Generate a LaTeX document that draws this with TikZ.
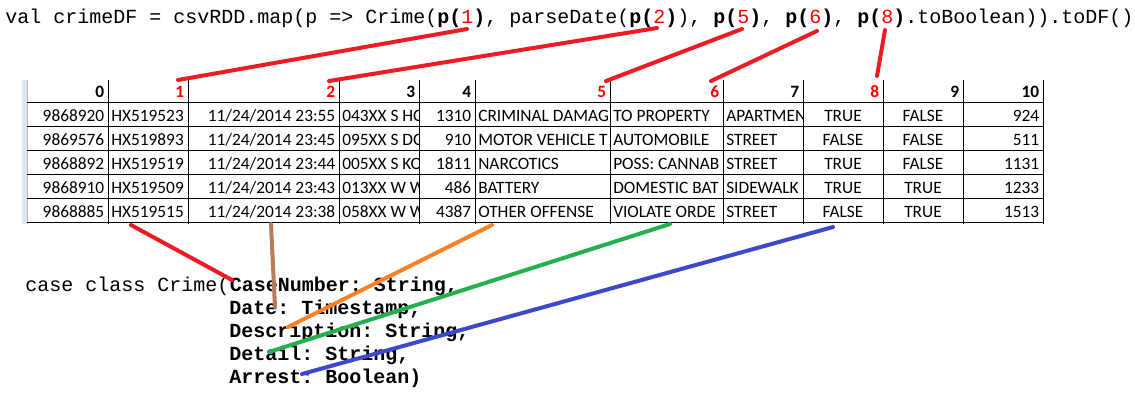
\documentclass[tikz,border=0pt]{standalone}
\usepackage{fontspec}
\usepackage{xcolor}
\usepackage{tikz}
\newfontfamily\codefont{Liberation Mono}
\newfontfamily\cellfont{Carlito}
\definecolor{hred}{HTML}{FF0000}
\definecolor{penred}{HTML}{ED1C24}
\definecolor{penbrown}{HTML}{B97A57}
\definecolor{penorange}{HTML}{FF7F27}
\definecolor{pengreen}{HTML}{22B14C}
\definecolor{penblue}{HTML}{3F48CC}
\definecolor{rowhead}{HTML}{DDE6F2}
\newcommand\pidx[1]{\textbf{p(}\textcolor{hred}{#1}\textbf{)}}

\begin{document}
\begin{tikzpicture}[x=0.75pt, y=-0.75pt,
    code/.style={font=\codefont\frenchspacing\fontsize{15}{18}\selectfont, inner sep=0pt, anchor=base west},
    field/.style={code, font=\codefont\frenchspacing\bfseries\fontsize{15}{18}\selectfont},
    hcell/.style={font=\cellfont\bfseries\fontsize{13}{15}\selectfont, inner sep=0pt, anchor=base east},
    lcell/.style={font=\cellfont\fontsize{13}{15}\selectfont, inner sep=0pt, anchor=base west},
    rcell/.style={lcell, anchor=base east},
    ccell/.style={lcell, anchor=base},
    gridline/.style={draw=black, line width=0.75pt},
    pen/.style={line width=3pt, line cap=round}
]
    \useasboundingbox (0,0) rectangle (1135,404);

    % code above and below
    \node[code] (call) at (5,23) {val crimeDF = csvRDD.map(p => Crime(\pidx{1}, parseDate(\pidx{2}), \pidx{5}, \pidx{6}, \pidx{8}.toBoolean)).toDF()};
    \node[code] (cls) at (25,291.7) {case class Crime(};
    \node[field] (f1) at (cls.base east) {CaseNumber: String,};
    \node[field] (f2) at (229,314.6) {Date: Timestamp,};
    \node[field] (f3) at (229,337.5) {Description: String,};
    \node[field] (f4) at (229,360.4) {Detail: String,};
    \node[field] (f5) at (229,383.3) {Arrest: Boolean)};

    % sheet
    \fill[rowhead] (22,80) rectangle (27,224);
    \draw[color=rowhead!60!gray, line width=0.75pt] (27,80) -- (27,224);
    \foreach \t/\xr/\c in {0/104.5/black, 1/184.5/hred, 2/335.5/hred, 3/415.5/black,
        4/471.5/black, 5/606.5/hred, 6/719.5/hred, 7/799.5/black, 8/879.5/hred,
        9/959.5/black, 10/1039.5/black}
        \node[hcell, text=\c] (h\t) at (\xr,97) {\t};

    \foreach \t [count=\r] in {9868920,9869576,9868892,9868910,9868885}
        \node[rcell] (c0r\r) at (104.5,97+24*\r) {\t};
    \foreach \t [count=\r] in {HX519523,HX519893,HX519519,HX519509,HX519515}
        \node[lcell] (c1r\r) at (111,97+24*\r) {\t};
    \foreach \t [count=\r] in {11/24/2014 23:55,11/24/2014 23:45,11/24/2014 23:44,11/24/2014 23:43,11/24/2014 23:38}
        \node[rcell] (c2r\r) at (335.5,97+24*\r) {\t};
    \begin{scope}
        \clip (339.5,102) rectangle (418.5,222);
        \foreach \t [count=\r] in {043XX S HO,095XX S DO,005XX S KO,013XX W W,058XX W W}
            \node[lcell] (c3r\r) at (342,97+24*\r) {\t};
    \end{scope}
    \foreach \t [count=\r] in {1310,910,1811,486,4387}
        \node[rcell] (c4r\r) at (471.5,97+24*\r) {\t};
    \begin{scope}
        \clip (475.5,102) rectangle (609.5,222);
        \foreach \t [count=\r] in {CRIMINAL DAMAG,MOTOR VEHICLE T,NARCOTICS,BATTERY,OTHER OFFENSE}
            \node[lcell] (c5r\r) at (478,97+24*\r) {\t};
    \end{scope}
    \begin{scope}
        \clip (610.5,102) rectangle (722.5,222);
        \foreach \t [count=\r] in {TO PROPERTY,AUTOMOBILE,POSS: CANNAB,DOMESTIC BAT,VIOLATE ORDE}
            \node[lcell] (c6r\r) at (613,97+24*\r) {\t};
    \end{scope}
    \begin{scope}
        \clip (723.5,102) rectangle (802.5,222);
        \foreach \t [count=\r] in {APARTMEN,STREET,STREET,SIDEWALK,STREET}
            \node[lcell] (c7r\r) at (726,97+24*\r) {\t};
    \end{scope}
    \foreach \t [count=\r] in {TRUE,FALSE,TRUE,TRUE,FALSE}
        \node[ccell] (c8r\r) at (843,97+24*\r) {\t};
    \foreach \t [count=\r] in {FALSE,FALSE,FALSE,TRUE,TRUE}
        \node[ccell] (c9r\r) at (923,97+24*\r) {\t};
    \foreach \t [count=\r] in {924,511,1131,1233,1513}
        \node[rcell] (c10r\r) at (1039.5,97+24*\r) {\t};

    \foreach \x in {108,188,339,419,475,610,723,803,883,963,1043}
        \draw[gridline] (\x,80) -- (\x,224);
    \foreach \y in {102,126,150,174,198,222}
        \draw[gridline] (27,\y) -- (1043,\y);

    % pen strokes
    \coordinate (p1) at (467,29);  \coordinate (t1) at (178,80);
    \coordinate (p2) at (657,28);  \coordinate (t2) at (329,81);
    \coordinate (p5) at (742,29);  \coordinate (t5) at (606,81);
    \coordinate (p6) at (817,31);  \coordinate (t6) at (711,81);
    \coordinate (p8) at (885,30);  \coordinate (t8) at (877,76);
    \foreach \i in {1,2,5,6,8}
        \draw[pen, penred] (p\i) -- (t\i);

    \coordinate (s1) at (131,225); \coordinate (e1) at (232,280);
    \coordinate (s2) at (271,224); \coordinate (e2) at (275,307);
    \coordinate (s3) at (492,225); \coordinate (e3) at (288,327);
    \coordinate (s4) at (670,224); \coordinate (e4) at (269,352);
    \coordinate (s5) at (833,227); \coordinate (e5) at (302,374);
    \draw[pen, penred] (s1) -- (e1);
    \draw[pen, penbrown] (s2) -- (e2);
    \draw[pen, penorange] (s3) -- (e3);
    \draw[pen, pengreen] (s4) -- (e4);
    \draw[pen, penblue] (s5) -- (e5);
\end{tikzpicture}
\end{document}
